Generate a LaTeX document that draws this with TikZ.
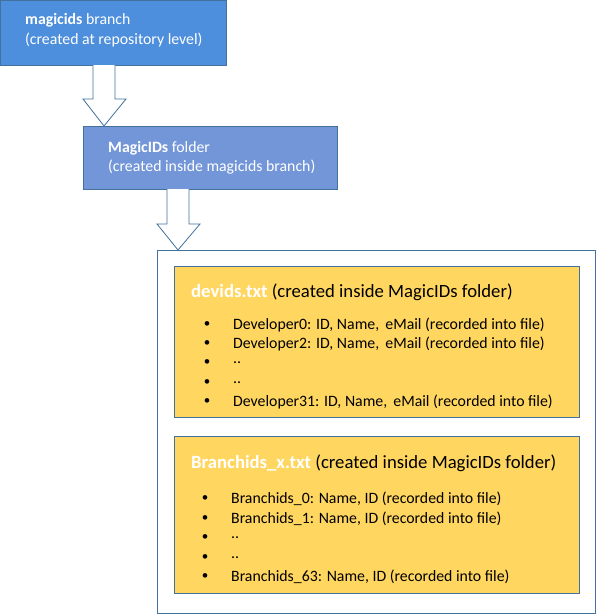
\documentclass[tikz,border=0pt]{standalone}
\usepackage{fontspec}
\setmainfont{Carlito}
\definecolor{bluea}{HTML}{4D8FDC}
\definecolor{blueb}{HTML}{7396D8}
\definecolor{edgeb}{HTML}{41719C}
\definecolor{gold}{HTML}{FFD660}
\tikzset{
  bluebox/.style={draw=edgeb, line width=0.8pt},
  goldbox/.style={draw=edgeb, fill=gold, line width=0.8pt},
  hollow/.style={draw=edgeb, fill=white, line width=0.8pt},
  wtxt/.style={anchor=west, inner sep=0pt, text=white},
  item/.style={anchor=west, inner sep=0pt, font=\fontsize{15.8}{18}\selectfont},
  dot/.style={anchor=center, inner sep=0pt, font=\fontsize{13}{15}\selectfont},
  ttl/.style={anchor=west, inner sep=0pt, font=\fontsize{18.7}{22}\selectfont}
}
\begin{document}
\begin{tikzpicture}[x=1pt,y=-1pt]
\useasboundingbox (0,0) rectangle (596,614);
% box 1
\node[bluebox, fill=bluea, minimum width=226pt, minimum height=65pt, anchor=north west, inner sep=0pt] (b1) at (0,0) {};
\node[wtxt, font=\fontsize{15.8}{18}\selectfont] (b1a) at (25,20) {\textbf{magicids} branch};
\node[wtxt, font=\fontsize{15.8}{18}\selectfont] (b1b) at (25,40) {(created at repository level)};
% box 2
\node[bluebox, fill=blueb, minimum width=254pt, minimum height=63pt, anchor=north west, inner sep=0pt] (b2) at (83,126) {};
\node[wtxt, font=\fontsize{15.8}{18}\selectfont] (b2a) at (108,148) {\textbf{MagicIDs} folder};
\node[wtxt, font=\fontsize{15.8}{18}\selectfont] (b2b) at (108,167) {(created inside magicids branch)};
% outer box
\node[draw=edgeb, line width=0.8pt, fill=white, minimum width=438pt, minimum height=363pt, anchor=north west, inner sep=0pt] (outer) at (157,250) {};
% hollow block arrows
\draw[hollow] (93,65) -- (93,99) -- (83,99) -- (104,126) -- (126,99) -- (115,99) -- (115,65);
\draw[hollow] (167,189) -- (167,224) -- (157,224) -- (178,250) -- (200,224) -- (189,224) -- (189,189);
% gold box 1
\node[goldbox, minimum width=405pt, minimum height=151pt, anchor=north west, inner sep=0pt] (g1) at (174,266) {};
\node[ttl] (g1t) at (191,292) {\textcolor{white}{\textbf{devids.txt}} (created inside MagicIDs folder)};
\foreach \y/\t [count=\i] in {325/{Developer0: ID, Name,\, eMail (recorded into file)},344/{Developer2: ID, Name,\, eMail (recorded into file)},363/{..},383/{..},402/{Developer31: ID, Name,\, eMail (recorded into file)}}{
  \node[dot] (g1d\i) at (207,\y) {•};
  \node[item] (g1i\i) at (233,\y) {\t};
}
% gold box 2
\node[goldbox, minimum width=405pt, minimum height=157pt, anchor=north west, inner sep=0pt] (g2) at (174,436) {};
\node[ttl] (g2t) at (191,463) {\textcolor{white}{\textbf{Branchids\_x.txt}} (created inside MagicIDs folder)};
\foreach \y/\t [count=\i] in {499/{Branchids\_0: Name, ID (recorded into file)},519/{Branchids\_1: Name, ID (recorded into file)},538/{..},558/{..},577/{Branchids\_63: Name, ID (recorded into file)}}{
  \node[dot] (g2d\i) at (205,\y) {•};
  \node[item] (g2i\i) at (231,\y) {\t};
}
\end{tikzpicture}
\end{document}
